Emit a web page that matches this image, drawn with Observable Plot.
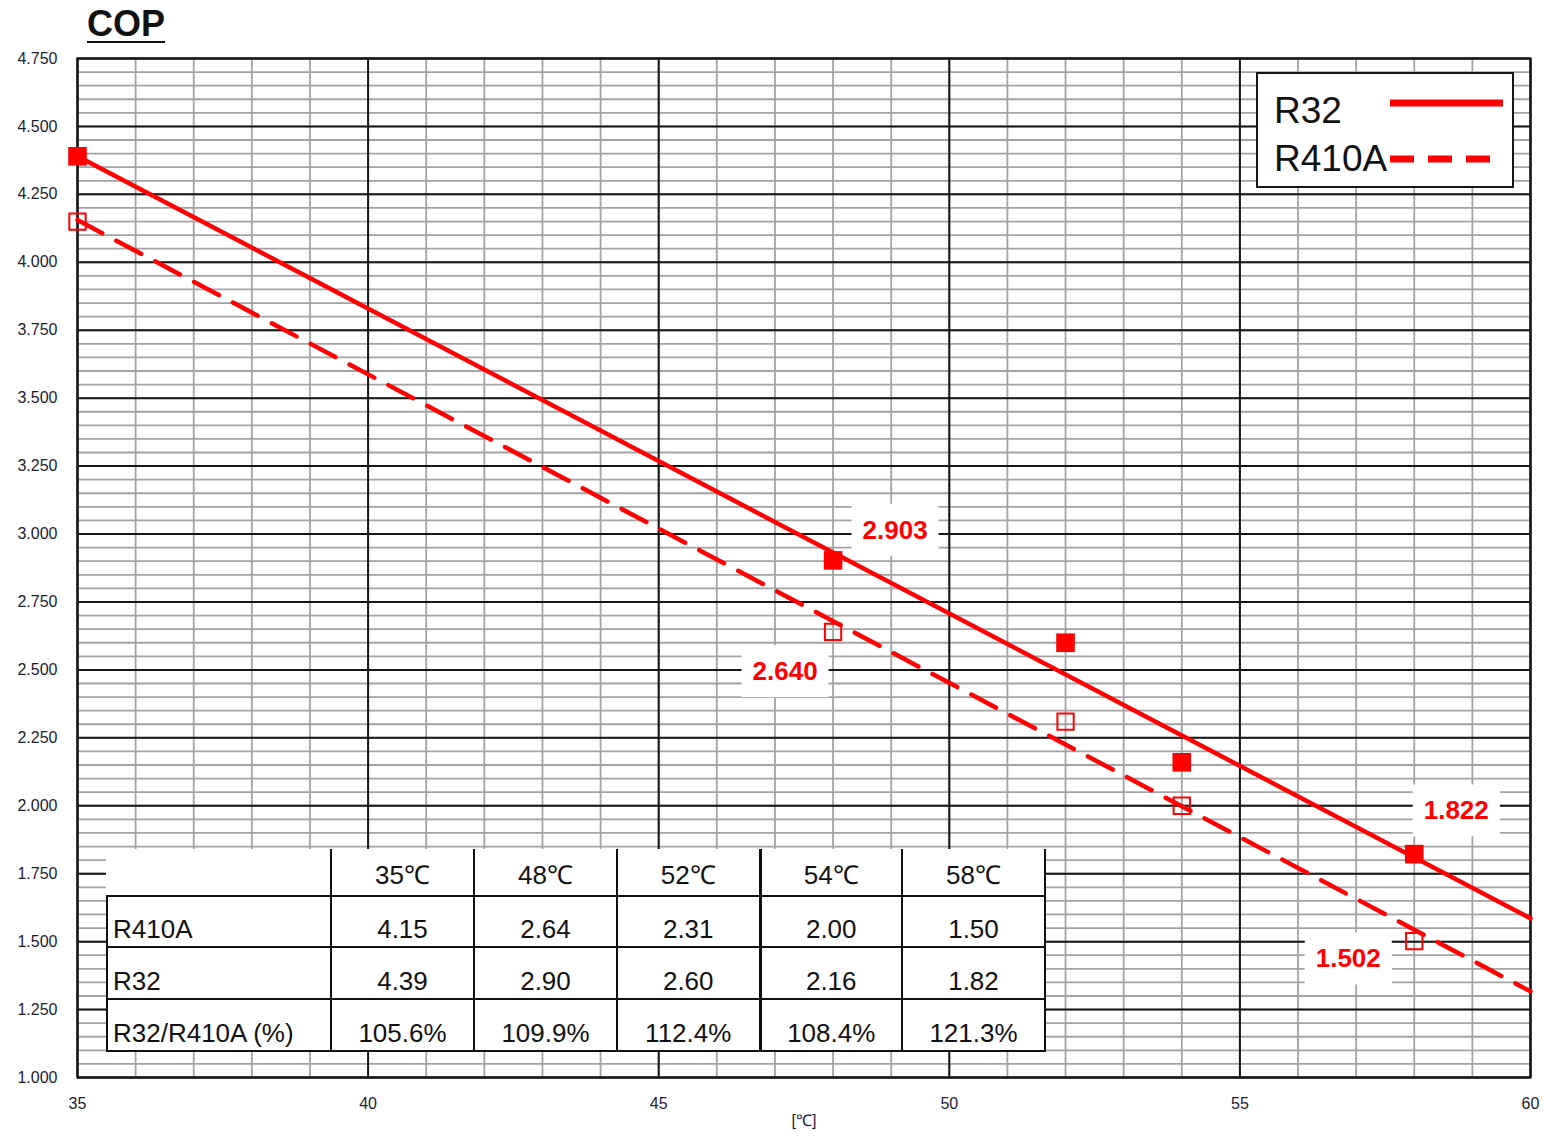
<!DOCTYPE html>
<html>
<head>
<meta charset="utf-8">
<script src="https://cdn.jsdelivr.net/npm/d3@7"></script>
<script src="https://cdn.jsdelivr.net/npm/@observablehq/plot@0.6"></script>
<style>
  body { margin: 0; background: #fff; font-family: "Liberation Sans", Arial, sans-serif; }
  #wrap { position: relative; width: 1543px; height: 1137px; overflow: hidden; }
  #title { position: absolute; left: 87px; top: 4px; font: bold 36px "Liberation Sans", Arial, sans-serif;
           text-decoration: underline; text-decoration-thickness: 2px; text-underline-offset: 5px; color: #111; line-height: 40px; }
  #chart { position: absolute; left: 0; top: 0; }
  #legend { position: absolute; left: 1256px; top: 72px; }
  #tbl { position: absolute; left: 106px; top: 849px; border-collapse: collapse; background: #fff;
         font: 26px "Liberation Sans", Arial, sans-serif; color: #111; table-layout: fixed; }
  #tbl td { border: 2px solid #111; padding: 0 0 2px 0; vertical-align: bottom; text-align: center; white-space: nowrap; line-height: 30px; }
  #tbl tr.head td { padding-bottom: 5px; }
  #tbl td.lab { text-align: left; padding-left: 5px; }
  #tbl tr.head td { border-top: none; }
  #tbl tr.head td.lab { border-left: none; }
  #tbl td.thick { border-left: 3px solid #111; }
</style>
</head>
<body>
<div id="wrap">
  <div id="chart"></div>
  <div id="title">COP</div>
</div>
<script>
// ---- data ----
const temps = [35, 48, 52, 54, 58];
const r32 = [4.39, 2.903, 2.60, 2.16, 1.822];
const r410a = [4.15, 2.640, 2.31, 2.00, 1.502];
const seriesNames = ["R32", "R410A"];

const labelTemps = [48, 48, 58, 58];
const labelValues = [2.903, 2.640, 1.822, 1.502];

const xDomain = [35, 60];
const yDomain = [1.0, 4.75];
const xTicks = [35, 40, 45, 50, 55, 60];
const yTicks = [1.0, 1.25, 1.5, 1.75, 2.0, 2.25, 2.5, 2.75, 3.0, 3.25, 3.5, 3.75, 4.0, 4.25, 4.5, 4.75];
const xLabel = "[℃]";

const tableHead = ["35℃", "48℃", "52℃", "54℃", "58℃"];
const tableR410A = ["4.15", "2.64", "2.31", "2.00", "1.50"];
const tableR32 = ["4.39", "2.90", "2.60", "2.16", "1.82"];
const tableRatio = ["105.6%", "109.9%", "112.4%", "108.4%", "121.3%"];
const tableRowNames = ["R410A", "R32", "R32/R410A (%)"];

// ---- layout ----
const RED = "#ff0000";
const labelOffsets = [[62, -30], [-48, 40], [42, -43], [-66, 18]];

const rows = temps.map((t, i) => ({t, r32: r32[i], r410a: r410a[i]}));
function fit(xs, ys) {
  const mx = d3.mean(xs), my = d3.mean(ys);
  const sxy = d3.sum(xs, (x, i) => (x - mx) * (ys[i] - my));
  const sxx = d3.sum(xs, x => (x - mx) ** 2);
  const b = sxy / sxx;
  return x => my + b * (x - mx);
}
const f32 = fit(temps, r32), f410 = fit(temps, r410a);
const trend32 = xDomain.map(x => ({x, y: f32(x)}));
const trend410 = xDomain.map(x => ({x, y: f410(x)}));

const xMinor = d3.range(xDomain[0], xDomain[1] + 0.001, 1);
const yMinor = d3.range(0, 76).map(k => yDomain[0] + k * 0.05);
const fmt3 = d3.format(".3f");

const plot = Plot.plot({
  width: 1543,
  height: 1137,
  marginLeft: 77,
  marginRight: 13,
  marginTop: 58,
  marginBottom: 60,
  style: {fontFamily: "'Liberation Sans', Arial, sans-serif", fontSize: "16px", color: "#1c2233", background: "transparent"},
  x: {domain: xDomain},
  y: {domain: yDomain},
  marks: [
    Plot.ruleX(xMinor, {stroke: "#a3a3a3", strokeWidth: 1.8}),
    Plot.ruleY(yMinor, {stroke: "#a3a3a3", strokeWidth: 1.8}),
    Plot.ruleX(xTicks, {stroke: "#161616", strokeWidth: 2}),
    Plot.ruleY(yTicks, {stroke: "#161616", strokeWidth: 2}),
    Plot.frame({stroke: "#161616", strokeWidth: 2.2}),
    Plot.axisY({ticks: yTicks, tickFormat: fmt3, tickSize: 0, tickPadding: 20, label: null, fontSize: 16}),
    Plot.axisX({ticks: xTicks, tickSize: 0, tickPadding: 20, label: null, fontSize: 16}),
    Plot.text([xLabel], {frameAnchor: "bottom", dy: 48, fontSize: 16, fill: "#1c2233"}),
    Plot.line(trend32, {x: "x", y: "y", stroke: RED, strokeWidth: 4.5}),
    Plot.line(trend410, {x: "x", y: "y", stroke: RED, strokeWidth: 4.5, strokeDasharray: "28,16"}),
    Plot.dot(rows, {x: "t", y: "r32", symbol: "square", r: 10.5, fill: RED}),
    Plot.dot(rows, {x: "t", y: "r410a", symbol: "square", r: 9.2, stroke: RED, strokeWidth: 2, fill: "none"}),
    ...labelTemps.map((t, i) => Plot.text([{t, v: labelValues[i]}], {
      x: "t", y: "v", text: d => fmt3(d.v), dx: labelOffsets[i][0], dy: labelOffsets[i][1],
      fill: RED, fontWeight: "bold", fontSize: 26, className: "vlabel"
    }))
  ]
});
document.getElementById("chart").appendChild(plot);

// white boxes behind value labels
const NS = "http://www.w3.org/2000/svg";
plot.querySelectorAll("g.vlabel text").forEach(t => {
  const b = t.getBBox();
  const r = document.createElementNS(NS, "rect");
  r.setAttribute("x", b.x - 11);
  r.setAttribute("y", b.y - 11);
  r.setAttribute("width", b.width + 22);
  r.setAttribute("height", b.height + 22);
  r.setAttribute("fill", "#fff");
  const tr = t.getAttribute("transform");
  if (tr) r.setAttribute("transform", tr);
  t.parentNode.insertBefore(r, t);
});

// legend
const wrap = document.getElementById("wrap");
const leg = d3.create("svg").attr("id", "legend").attr("width", 260).attr("height", 118);
leg.append("rect").attr("x", 1).attr("y", 1).attr("width", 256).attr("height", 114)
  .attr("fill", "#fff").attr("stroke", "#161616").attr("stroke-width", 2);
const legY = [[51, 31], [99, 87]];
seriesNames.forEach((name, i) => {
  leg.append("text").attr("x", 18).attr("y", legY[i][0]).attr("font-size", 37)
    .attr("font-family", "'Liberation Sans', Arial, sans-serif").attr("fill", "#111").text(name);
  leg.append("line").attr("x1", 134).attr("x2", i === 0 ? 247 : 234)
    .attr("y1", legY[i][1]).attr("y2", legY[i][1])
    .attr("stroke", RED).attr("stroke-width", 7)
    .attr("stroke-dasharray", i === 0 ? null : "24,14");
});
wrap.appendChild(leg.node());

// table
const tbl = d3.select(wrap).append("table").attr("id", "tbl");
const colW = [224, 143, 143, 143, 142, 143];
const cg = tbl.append("colgroup");
colW.forEach(w => cg.append("col").style("width", w + "px"));
const rowH = [47, 51, 52, 52];
const bodyRows = [
  [tableRowNames[0], ...tableR410A],
  [tableRowNames[1], ...tableR32],
  [tableRowNames[2], ...tableRatio]
];
const allRows = [["", ...tableHead], ...bodyRows];
allRows.forEach((cells, ri) => {
  const tr = tbl.append("tr").style("height", rowH[ri] + "px").attr("class", ri === 0 ? "head" : null);
  cells.forEach((c, ci) => {
    tr.append("td").attr("class", ci === 0 ? "lab" : (ci === 4 ? "thick" : null)).text(c);
  });
});
</script>
</body>
</html>
